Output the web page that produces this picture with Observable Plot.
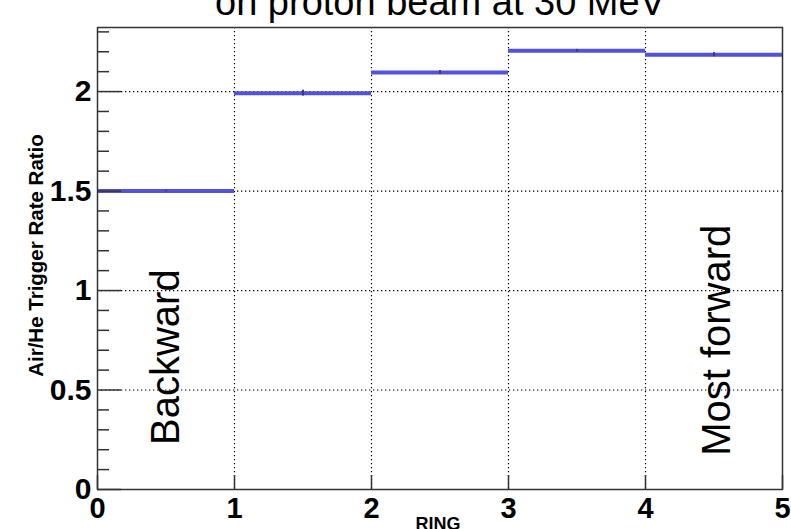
<!DOCTYPE html>
<html>
<head>
<meta charset="utf-8">
<script src="https://cdn.jsdelivr.net/npm/d3@7"></script>
<script src="https://cdn.jsdelivr.net/npm/@observablehq/plot@0.6"></script>
<style>
  html, body { margin: 0; padding: 0; background: #fff; }
  #chart { width: 791px; height: 529px; overflow: hidden; }
  svg { font-family: "Liberation Sans", Arial, Helvetica, sans-serif; }
</style>
</head>
<body>
<div id="chart"></div>
<script>
// ---- data ----
const ringLow  = [0, 1, 2, 3, 4];
const ringHigh = [1, 2, 3, 4, 5];
const ratio    = [1.50, 1.992, 2.096, 2.205, 2.185];
const ratioErr = [0.004, 0.014, 0.010, 0.007, 0.010];
const xTicks = [0, 1, 2, 3, 4, 5];
const xGrid = [1, 2, 3, 4];
const yTicks = [0, 0.5, 1, 1.5, 2];
const yMinor = [0.1,0.2,0.3,0.4,0.6,0.7,0.8,0.9,1.1,1.2,1.3,1.4,1.6,1.7,1.8,1.9,2.1,2.2,2.3];
const titleText = "on proton beam at 30 MeV";
const xTitle = "RING";
const yTitle = "Air/He Trigger Rate Ratio";
const notes = [
  {text: "Backward", ring: 0.5, level: 0.665},
  {text: "Most forward", ring: 4.52, level: 0.75}
];

const bins = ringLow.map((lo, i) => ({
  lo, hi: ringHigh[i], mid: (lo + ringHigh[i]) / 2,
  v: ratio[i], e1: ratio[i] - ratioErr[i], e2: ratio[i] + ratioErr[i]
}));

const blue = "#5252dc";

const chart = Plot.plot({
  width: 791,
  height: 529,
  marginLeft: 97,
  marginRight: 9,
  marginTop: 27,
  marginBottom: 40,
  x: {domain: [0, 5], label: null},
  y: {domain: [0, 2.322], label: null},
  style: {background: "white", color: "black", overflow: "hidden"},
  marks: [
    Plot.gridX(xGrid, {stroke: "black", strokeOpacity: 1, strokeDasharray: "1.3,2.7", strokeWidth: 1.2}),
    Plot.gridY(yTicks.filter(d => d > 0), {stroke: "black", strokeOpacity: 1, strokeDasharray: "1.3,2.7", strokeWidth: 1.2}),
    Plot.ruleY(bins, {y: "v", x1: "lo", x2: "hi", stroke: blue, strokeWidth: 4}),
    Plot.ruleX(bins, {x: "mid", y1: "e1", y2: "e2", stroke: blue, strokeWidth: 2}),
    Plot.ruleX(bins, {x: "mid", y1: "e1", y2: "e2", stroke: "#222", strokeWidth: 1}),
    // inward ticks
    Plot.axisY(yTicks, {tickSize: -24, fill: "none", label: null, stroke: "#333", strokeWidth: 1.5}),
    Plot.axisY(yMinor, {tickSize: -12, fill: "none", label: null, stroke: "#333", strokeWidth: 1.5}),
    Plot.axisX(xTicks, {tickSize: -14, fill: "none", label: null, stroke: "#333", strokeWidth: 1.5}),
    // tick labels
    Plot.axisY(yTicks, {tickSize: 0, tickPadding: 6, fontSize: 30, fontWeight: "bold", label: null, tickFormat: d => String(d)}),
    Plot.axisX(xTicks, {tickSize: 0, tickPadding: 8, fontSize: 29, fontWeight: "bold", label: null, tickFormat: d => String(d)}),
    Plot.frame({stroke: "#333", strokeWidth: 1.5}),
    // annotations
    Plot.text(notes, {x: "ring", y: "level", text: "text", rotate: -90, fontSize: 40, textAnchor: "middle", lineAnchor: "middle", fill: "black"}),
    // axis titles
    Plot.text([xTitle], {frameAnchor: "bottom", textAnchor: "middle", lineAnchor: "top", dy: 28, dx: -2, fontSize: 18, fontWeight: "bold", fill: "black"}),
    Plot.text([yTitle], {frameAnchor: "left", rotate: -90, textAnchor: "middle", lineAnchor: "middle", dx: -61, dy: -3, fontSize: 20.5, fontWeight: "bold", fill: "black"}),
    // title
    Plot.text([titleText], {frameAnchor: "top", textAnchor: "middle", lineAnchor: "bottom", dy: -13, fontSize: 38, fill: "black"})
  ]
});
document.getElementById("chart").appendChild(chart);
</script>
</body>
</html>
